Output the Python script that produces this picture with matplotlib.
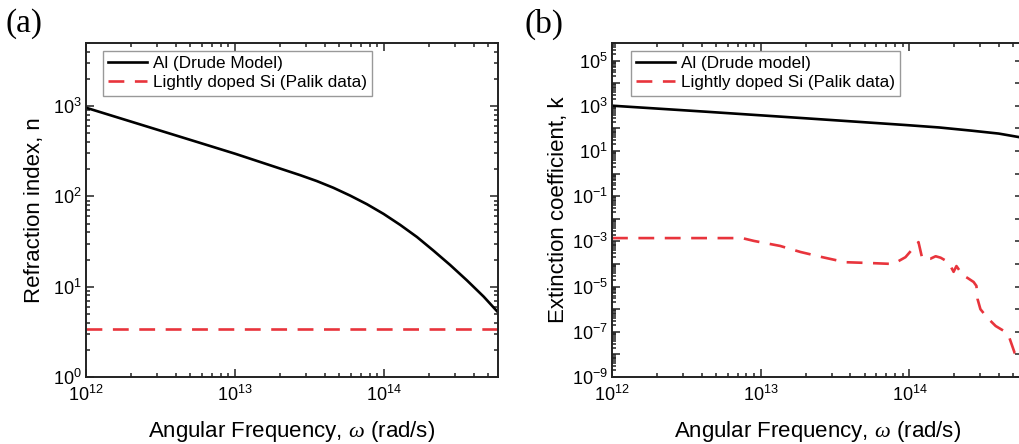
import matplotlib
matplotlib.use("Agg")
import matplotlib.pyplot as plt
from matplotlib.ticker import LogLocator, FuncFormatter, NullFormatter
import numpy as np

plt.rcParams["font.family"] = ["Liberation Sans", "DejaVu Sans"]
plt.rcParams["mathtext.fontset"] = "custom"
plt.rcParams["mathtext.rm"] = "Liberation Sans"
plt.rcParams["mathtext.it"] = "Liberation Serif:italic"
plt.rcParams["mathtext.bf"] = "Liberation Sans:bold"

# ---- data -------------------------------------------------------------
# Al refractive index (Drude model)
omega_al_n = [1.0e12, 5.5e12, 1.0e13, 2.73e13, 3.53e13, 4.57e13, 5.92e13,
              7.66e13, 9.91e13, 1.28e14, 1.66e14, 2.14e14, 2.77e14,
              3.59e14, 4.65e14, 5.85e14]
n_al = [960, 403, 297, 172, 148, 124.5, 102, 82, 64, 48.4, 35.5, 25.1,
        17.4, 11.75, 7.76, 5.13]

# Lightly doped Si refractive index (Palik)
omega_si_n = [1.0e12, 1.0e13, 1.0e14, 5.85e14]
n_si = [3.42, 3.42, 3.42, 3.42]

# Al extinction coefficient (Drude model)
omega_al_k = [1.0e12, 4.23e12, 2.0e13, 9.4e13, 1.58e14, 2.63e14, 3.98e14, 5.85e14]
k_al = [1010, 550, 280, 141, 110, 79, 59, 38]

# Lightly doped Si extinction coefficient (Palik)
omega_si_k = [1.0e12, 7.5e12, 9.0e12, 1.35e13, 1.85e13, 2.6e13, 3.7e13,
              5.5e13, 7.8e13, 9.4e13, 1.15e14, 1.22e14, 1.38e14, 1.5e14,
              1.62e14, 1.83e14, 1.98e14, 2.07e14, 2.28e14, 2.46e14, 2.7e14,
              2.82e14, 2.87e14, 3.0e14, 3.35e14, 3.8e14, 4.43e14, 4.7e14,
              5.1e14, 5.4e14]
k_si = [1.4e-3, 1.4e-3, 1.05e-3, 6.3e-4, 3.4e-4, 2.0e-4, 1.2e-4,
        1.1e-4, 1.0e-4, 2.0e-4, 9.3e-4, 1.7e-4, 1.7e-4, 2.2e-4,
        1.9e-4, 1.2e-4, 4.5e-5, 8.1e-5, 3.2e-5, 2.4e-5, 1.6e-5,
        1.07e-5, 2.8e-6, 1.0e-6, 4.1e-7, 1.8e-7, 9.8e-8, 5.4e-8,
        1.15e-8, 8.5e-9]

x_range = (1e12, 5.8e14)
n_range = (1, 5000)
k_range = (1e-9, 6e5)

label_al_a = "Al (Drude Model)"
label_al_b = "Al (Drude model)"
label_si = "Lightly doped Si (Palik data)"
xlabel = r"Angular Frequency, $\omega$ (rad/s)"
ylabel_a = "Refraction index, n"
ylabel_b = "Extinction coefficient, k"

# ---- figure -----------------------------------------------------------
W, H = 1020, 444
fig = plt.figure(figsize=(W / 100, H / 100), dpi=100)

def axes_px(left, right, top, bottom):
    return fig.add_axes([left / W, 1 - bottom / H, (right - left) / W, (bottom - top) / H])

ax_a = axes_px(86, 498, 43, 377)
ax_b = axes_px(612, 1023, 43, 377)

red = "#e8343c"
lw = 1.9

def sup_fmt(only_odd=False):
    def f(v, pos):
        e = int(round(np.log10(v)))
        if only_odd and e % 2 == 0:
            return ""
        return r"$\mathdefault{10^{%d}}$" % e
    return FuncFormatter(f)

def style(ax, ylim, only_odd):
    ax.set_xscale("log")
    ax.set_yscale("log")
    ax.set_xlim(*x_range)
    ax.set_ylim(*ylim)
    ax.xaxis.set_major_locator(LogLocator(base=10, numticks=20))
    ax.xaxis.set_minor_locator(LogLocator(base=10, subs=np.arange(2, 10), numticks=40))
    ax.yaxis.set_major_locator(LogLocator(base=10, numticks=40))
    ax.yaxis.set_minor_locator(LogLocator(base=10, subs=np.arange(2, 10), numticks=80))
    ax.xaxis.set_major_formatter(sup_fmt())
    ax.yaxis.set_major_formatter(sup_fmt(only_odd))
    ax.xaxis.set_minor_formatter(NullFormatter())
    ax.yaxis.set_minor_formatter(NullFormatter())
    ax.tick_params(which="both", direction="in", top=True, right=True,
                   labelsize=13, width=1.1, color="#222222")
    ax.tick_params(which="major", length=6)
    ax.tick_params(which="minor", length=3)
    ax.tick_params(axis="x", pad=6)
    ax.tick_params(axis="y", pad=3)
    for s in ax.spines.values():
        s.set_linewidth(1.4)
        s.set_color("#222222")
    ax.set_xlabel(xlabel, fontsize=16, labelpad=10)

# (a) refractive index
ax_a.plot(omega_al_n, n_al, color="black", lw=lw, label=label_al_a)
ax_a.plot(omega_si_n, n_si, color=red, lw=lw, dashes=(6, 4), label=label_si)
style(ax_a, n_range, False)
ax_a.set_ylabel(ylabel_a, fontsize=16, labelpad=6)

# (b) extinction coefficient
ax_b.plot(omega_al_k, k_al, color="black", lw=lw, label=label_al_b)
ax_b.plot(omega_si_k, k_si, color=red, lw=lw, dashes=(6, 4), label=label_si)
style(ax_b, k_range, True)
ax_b.set_ylabel(ylabel_b, fontsize=16, labelpad=2)

for ax, off in ((ax_a, 17), (ax_b, 19)):
    w = ax.get_position().width * W
    h = ax.get_position().height * H
    leg = ax.legend(loc="upper left", bbox_to_anchor=(off / w, 1 - 8 / h),
                    borderaxespad=0, fontsize=12.3, handlelength=2.3,
                    handletextpad=0.3, labelspacing=0.25, borderpad=0.3,
                    fancybox=False, framealpha=1)
    leg.get_frame().set_edgecolor("#999999")
    leg.get_frame().set_linewidth(1.0)

fig.text(6 / W, 1 - 24 / H, "(a)", family="Liberation Serif", fontsize=24, va="center", ha="left")
fig.text(525 / W, 1 - 24 / H, "(b)", family="Liberation Serif", fontsize=24, va="center", ha="left")

fig.savefig("out.png", dpi=100)
